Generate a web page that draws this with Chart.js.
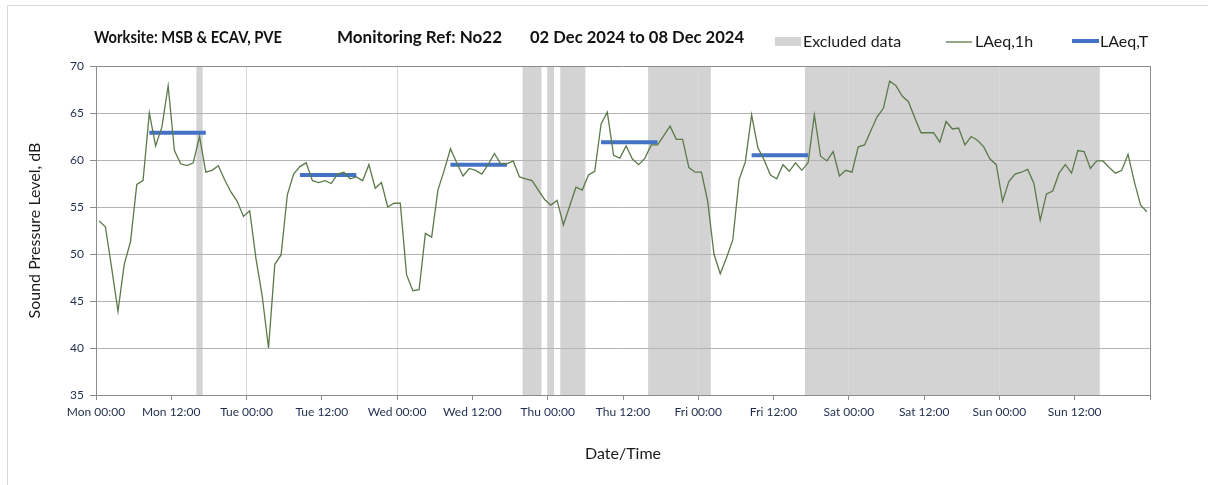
<!DOCTYPE html>
<html>
<head>
<meta charset="utf-8">
<script src="https://cdn.jsdelivr.net/npm/chart.js@4.4.1/dist/chart.umd.min.js"></script>
<style>
  html, body { margin: 0; padding: 0; background: #fff; overflow: hidden; }
  #frame { position: absolute; left: 7px; top: 5px; width: 1400px; height: 700px; border: 1px solid #d9d9d9; }
  #wrap { position: absolute; left: 0; top: 0; width: 1208px; height: 485px; }
</style>
</head>
<body>
<div id="frame"></div>
<div id="wrap"><canvas id="noiseChart" width="1208" height="485"></canvas></div>
<script>
// hourly LAeq,1h readings, Mon 00:00 -> Sun 23:00 (one per hour)
const levels = [
  53.5, 52.9, 48.5, 43.9, 48.9, 51.3, 57.4, 57.8, 65.0, 61.5, 63.5, 67.9, 61.0, 59.6, 59.4, 59.7, 62.5, 58.7, 58.9, 59.4, 57.9, 56.6, 55.6, 54.0,
  54.6, 49.5, 45.5, 40.0, 48.9, 49.9, 56.3, 58.5, 59.3, 59.7, 57.8, 57.6, 57.8, 57.5, 58.5, 58.7, 58.0, 58.2, 57.8, 59.5, 57.0, 57.6, 55.0, 55.4,
  55.4, 47.8, 46.1, 46.2, 52.2, 51.8, 56.8, 58.9, 61.2, 59.7, 58.3, 59.1, 58.9, 58.5, 59.5, 60.7, 59.6, 59.6, 59.9, 58.2, 58.0, 57.8, 56.8, 55.8,
  55.2, 55.7, 53.1, 55.1, 57.1, 56.8, 58.4, 58.8, 63.8, 65.1, 60.5, 60.2, 61.5, 60.1, 59.5, 60.2, 61.6, 61.6, 62.6, 63.6, 62.2, 62.2, 59.2, 58.7,
  58.7, 55.6, 50.0, 47.9, 49.6, 51.5, 57.9, 59.8, 64.8, 61.3, 60.0, 58.4, 58.0, 59.5, 58.8, 59.7, 58.9, 59.7, 64.8, 60.4, 59.9, 60.9, 58.3, 58.9,
  58.7, 61.4, 61.6, 63.1, 64.6, 65.5, 68.4, 67.9, 66.8, 66.2, 64.5, 62.9, 62.9, 62.9, 61.9, 64.1, 63.3, 63.4, 61.6, 62.5, 62.1, 61.4, 60.1, 59.5,
  55.6, 57.7, 58.5, 58.7, 59.0, 57.5, 53.6, 56.4, 56.7, 58.6, 59.5, 58.6, 61.0, 60.9, 59.1, 59.9, 59.9, 59.2, 58.6, 58.9, 60.6, 57.7, 55.2, 54.5
];

// LAeq,T for each daytime period (first and last hourly reading index)
const periodStart = [8, 32, 56, 80, 104];
const periodEnd = [17, 41, 65, 89, 113];
const periodLevel = [62.9, 58.4, 59.5, 61.9, 60.5];

// excluded data, hours from Mon 00:00
const excludedFrom = [16, 68, 72, 74, 88, 113];
const excludedTo = [17, 71, 73, 78, 98, 160];

const tickLabels = ['Mon 00:00', 'Mon 12:00', 'Tue 00:00', 'Tue 12:00', 'Wed 00:00', 'Wed 12:00', 'Thu 00:00',
  'Thu 12:00', 'Fri 00:00', 'Fri 12:00', 'Sat 00:00', 'Sat 12:00', 'Sun 00:00', 'Sun 12:00'];

const titleParts = ['Worksite: MSB & ECAV, PVE', 'Monitoring Ref: No22', '02 Dec 2024 to 08 Dec 2024'];

const FONT = "Lato, 'Open Sans', sans-serif";

const hourlyPoints = levels.map((v, i) => ({ x: i + 0.5, y: v }));
const periodPoints = [];
periodStart.forEach((s, i) => {
  periodPoints.push({ x: s + 0.5, y: periodLevel[i] });
  periodPoints.push({ x: periodEnd[i] + 0.5, y: periodLevel[i] });
  periodPoints.push({ x: periodEnd[i] + 1, y: null });
});

const excludedBands = {
  id: 'excludedBands',
  beforeDraw(chart) {
    const { ctx, chartArea, scales } = chart;
    ctx.save();
    ctx.fillStyle = '#d3d3d3';
    excludedFrom.forEach((from, i) => {
      const x1 = scales.x.getPixelForValue(from);
      const x2 = scales.x.getPixelForValue(excludedTo[i]);
      ctx.fillRect(x1, chartArea.top, x2 - x1, chartArea.bottom - chartArea.top);
    });
    ctx.restore();
  }
};

const header = {
  id: 'header',
  afterDraw(chart) {
    const ctx = chart.ctx;
    ctx.save();
    ctx.textBaseline = 'middle';
    ctx.fillStyle = '#111';
    ctx.font = 'bold 17px ' + FONT;
    ctx.fillText(titleParts[0], 94, 38, 188);
    ctx.fillText(titleParts[1], 337, 38, 172);
    ctx.fillText(titleParts[2], 530, 38, 214);

    // legend
    ctx.font = '16px ' + FONT;
    ctx.fillStyle = '#d3d3d3';
    ctx.fillRect(775, 37, 26, 9);
    ctx.fillStyle = '#1a1a1a';
    ctx.fillText('Excluded data', 803, 42, 108);

    ctx.strokeStyle = '#4f6a3c';
    ctx.lineWidth = 1.2;
    ctx.beginPath();
    ctx.moveTo(946, 42);
    ctx.lineTo(972, 42);
    ctx.stroke();
    ctx.fillText('LAeq,1h', 975, 42, 66);

    ctx.strokeStyle = '#4472c4';
    ctx.lineWidth = 4;
    ctx.beginPath();
    ctx.moveTo(1072, 41);
    ctx.lineTo(1099, 41);
    ctx.stroke();
    ctx.fillText('LAeq,T', 1100, 42, 58);
    ctx.restore();
  }
};

const ctx = document.getElementById('noiseChart').getContext('2d');
const chart = new Chart(ctx, {
  type: 'line',
  data: {
    datasets: [
      {
        label: 'LAeq,1h',
        data: hourlyPoints,
        borderColor: '#5b7a49',
        borderWidth: 1.3,
        pointRadius: 0,
        tension: 0
      },
      {
        label: 'LAeq,T',
        data: periodPoints,
        borderColor: '#4472c4',
        borderWidth: 4,
        borderCapStyle: 'butt',
        pointRadius: 0,
        spanGaps: false
      }
    ]
  },
  options: {
    responsive: false,
    animation: false,
    events: [],
    layout: { padding: { top: 66, right: 58, left: 0, bottom: 0 } },
    plugins: {
      legend: { display: false },
      title: { display: false },
      tooltip: { enabled: false }
    },
    scales: {
      x: {
        type: 'linear',
        min: 0,
        max: 168,
        afterFit: s => { s.height = 90; },
        border: { color: '#8c8c8c' },
        grid: {
          color: c => {
            const v = c.tick.value;
            if (v === 0) return 'rgba(0,0,0,0)';
            if (v === 168) return '#8c8c8c';
            return v % 24 === 0 ? '#d9d9d9' : 'rgba(0,0,0,0)';
          },
          tickColor: '#8c8c8c',
          tickLength: 5
        },
        ticks: {
          stepSize: 12,
          autoSkip: false,
          maxRotation: 0,
          padding: 5,
          color: '#1f2d4d',
          font: { family: FONT, size: 12 },
          callback: v => tickLabels[v / 12] || ''
        },
        title: {
          display: true,
          text: 'Date/Time',
          color: '#1a1a1a',
          font: { family: FONT, size: 16 },
          padding: { top: 0, bottom: 22 }
        }
      },
      y: {
        min: 35,
        max: 70,
        afterFit: s => { s.width = 96; },
        border: { color: '#8c8c8c' },
        grid: {
          color: c => c.tick.value === 70 ? '#8c8c8c' : '#b4b4b4',
          tickColor: '#8c8c8c',
          tickLength: 6
        },
        ticks: {
          stepSize: 5,
          padding: 6,
          color: '#1f2d4d',
          font: { family: FONT, size: 12 }
        },
        title: {
          display: true,
          text: 'Sound Pressure Level, dB',
          color: '#1a1a1a',
          font: { family: FONT, size: 16 },
          padding: { top: 25, bottom: 0 }
        }
      }
    }
  },
  plugins: [excludedBands, header]
});
</script>
</body>
</html>
